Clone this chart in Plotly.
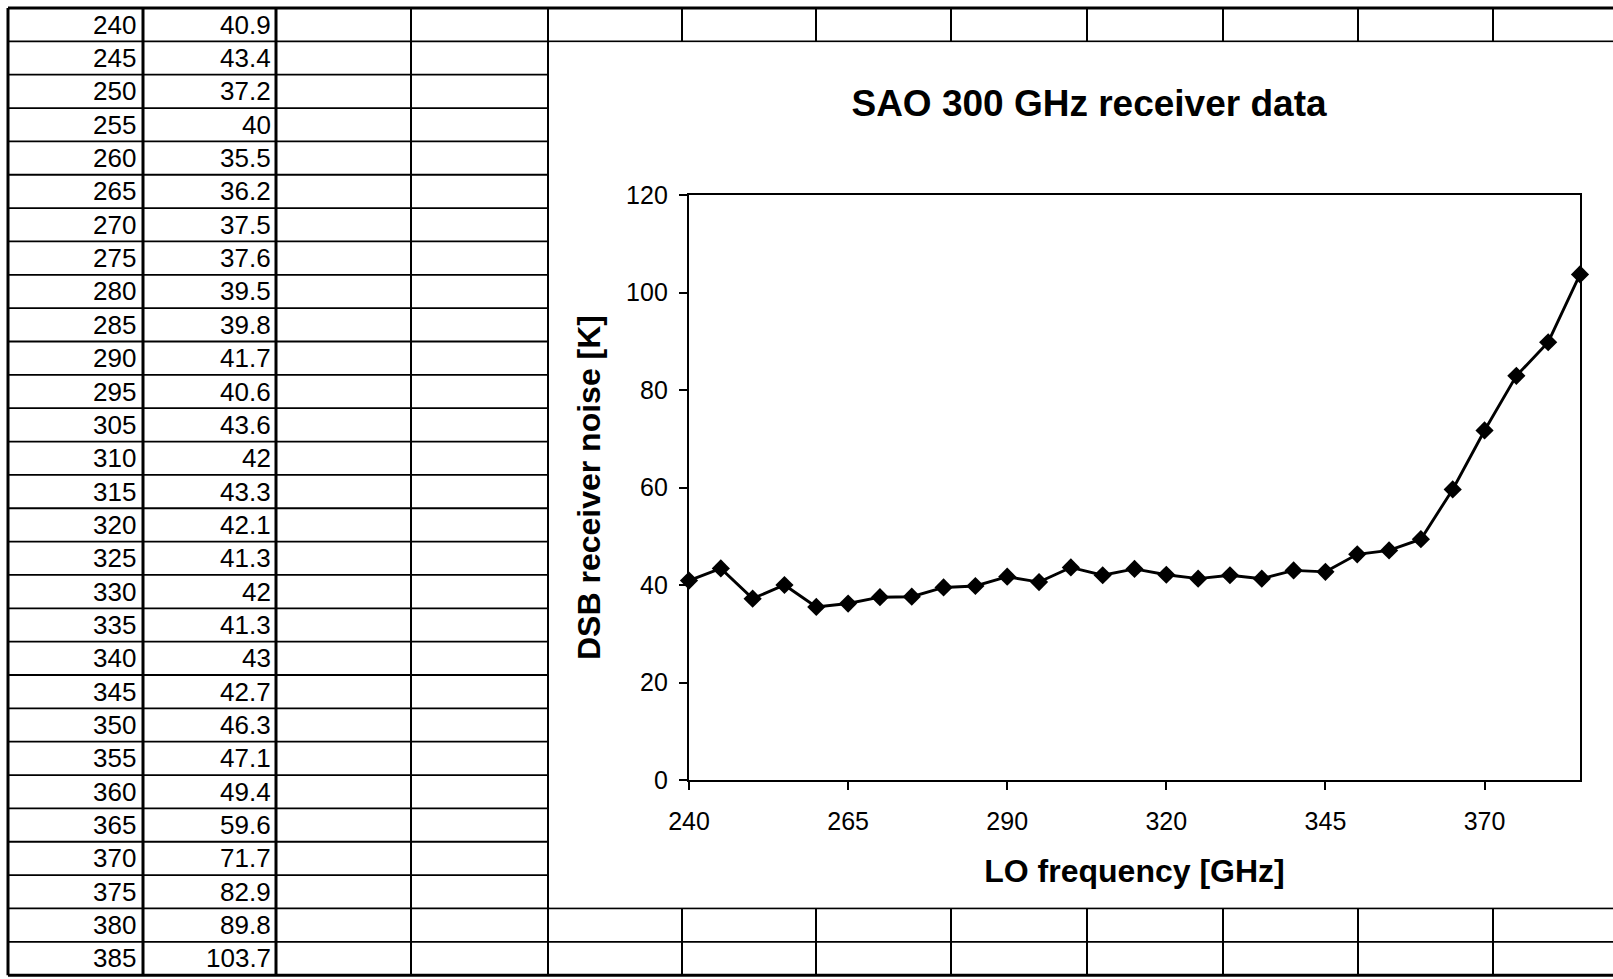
import plotly.graph_objects as go

# ---------------- data ----------------
freq_ghz = [240, 245, 250, 255, 260, 265, 270, 275, 280, 285, 290, 295,
            305, 310, 315, 320, 325, 330, 335, 340, 345, 350, 355, 360,
            365, 370, 375, 380, 385]
dsb_noise_k = [40.9, 43.4, 37.2, 40, 35.5, 36.2, 37.5, 37.6, 39.5, 39.8, 41.7, 40.6,
               43.6, 42, 43.3, 42.1, 41.3, 42, 41.3, 43, 42.7, 46.3, 47.1, 49.4,
               59.6, 71.7, 82.9, 89.8, 103.7]
tick_every = 5
y_ticks = [0, 20, 40, 60, 80, 100, 120]
title_text = "SAO 300 GHz receiver data"
x_title = "LO frequency [GHz]"
y_title = "DSB receiver noise [K]"

# ---------------- geometry (pixels of the page) ----------------
W, H = 1613, 979
FONT = "Liberation Sans, Arial, Helvetica, sans-serif"


def X(px):
    return px / W


def Y(py):
    return 1 - py / H


row_top = 8.0
row_h = 33.35
n_rows = len(freq_ghz)
row_y = [row_top + k * row_h for k in range(n_rows + 1)]
col_x_left = [8, 143, 276, 411, 548]
col_x_right = [682, 816, 951, 1087, 1223, 1358, 1493]
chart_row_top, chart_row_bot = 1, 27

plot_l, plot_r, plot_t, plot_b = 689, 1580, 195, 780

idx = list(range(len(freq_ghz)))
tick_idx = idx[::tick_every]
tick_txt = [str(freq_ghz[i]) for i in tick_idx]

fig = go.Figure()
fig.add_trace(go.Scatter(
    x=idx, y=dsb_noise_k, mode="lines+markers",
    line=dict(color="black", width=2.9),
    marker=dict(symbol="diamond", size=14, color="black"),
    cliponaxis=False, showlegend=False, hoverinfo="x+y",
))

shapes = []


def hline(y, x0, x1, w):
    shapes.append(dict(type="line", xref="paper", yref="paper", layer="below",
                       x0=X(x0), x1=X(x1), y0=Y(y), y1=Y(y),
                       line=dict(color="black", width=w)))


def vline(x, y0, y1, w):
    shapes.append(dict(type="line", xref="paper", yref="paper", layer="below",
                       x0=X(x), x1=X(x), y0=Y(y0), y1=Y(y1),
                       line=dict(color="black", width=w)))


# row lines
for k, y in enumerate(row_y):
    full = k <= chart_row_top or k >= chart_row_bot
    thick = k == 0 or k == n_rows
    hline(y, col_x_left[0], W if full else col_x_left[-1], 3 if thick else 1.8)
# left columns
for j, x in enumerate(col_x_left):
    vline(x, row_y[0], row_y[-1], 3 if j < 3 else 2)
# right columns (only the visible rows above and below the chart)
for x in col_x_right:
    vline(x, row_y[0], row_y[chart_row_top], 2)
    vline(x, row_y[chart_row_bot], row_y[-1], 2)
# chart area (white, covers the grid)
shapes.append(dict(type="rect", xref="paper", yref="paper", layer="below",
                   x0=X(col_x_left[-1] + 1.5), x1=1.0,
                   y0=Y(row_y[chart_row_bot] - 1.2), y1=Y(row_y[chart_row_top] + 1.2),
                   line=dict(width=0), fillcolor="white"))

annotations = []
for k, (f, v) in enumerate(zip(freq_ghz, dsb_noise_k)):
    yc = Y((row_y[k] + row_y[k + 1]) / 2)
    annotations.append(dict(x=X(col_x_left[1] - 5), y=yc, xref="paper", yref="paper",
                            text=str(f), showarrow=False, xanchor="right", yanchor="middle",
                            font=dict(family=FONT, size=26, color="black")))
    annotations.append(dict(x=X(col_x_left[2] - 3), y=yc, xref="paper", yref="paper",
                            text=f"{v:g}", showarrow=False, xanchor="right", yanchor="middle",
                            font=dict(family=FONT, size=26, color="black")))

axis_common = dict(showgrid=False, zeroline=False, linecolor="black", linewidth=2.4,
                   tickcolor="black", tickwidth=1.6, ticklen=8, automargin=False)

fig.update_layout(
    width=W, height=H, autosize=False,
    margin=dict(l=0, r=0, t=0, b=0, pad=0, autoexpand=False),
    paper_bgcolor="white", plot_bgcolor="white",
    shapes=shapes, annotations=annotations,
    title=dict(text=f"<b>{title_text}</b>", x=X(1089), y=Y(103), xref="paper", yref="paper",
               xanchor="center", yanchor="middle", automargin=False,
               font=dict(family=FONT, size=37, color="black")),
    xaxis=dict(domain=[X(plot_l), X(plot_r)], range=[0, len(freq_ghz) - 1],
               tickmode="array", tickvals=tick_idx, ticktext=tick_txt,
               ticks="outside", showline=True, mirror=True, anchor="y",
               tickfont=dict(family=FONT, size=25, color="black"),
               ticklabelstandoff=10,
               title=dict(text=f"<b>{x_title}</b>", standoff=25,
                          font=dict(family=FONT, size=32, color="black")),
               **axis_common),
    yaxis=dict(domain=[Y(plot_b), Y(plot_t)], range=[y_ticks[0], y_ticks[-1]],
               tickmode="array", tickvals=y_ticks,
               ticks="outside", showline=True, mirror=True, anchor="x",
               tickfont=dict(family=FONT, size=25, color="black"),
               ticklabelstandoff=6,
               title=dict(text=f"<b>{y_title}</b>", standoff=16,
                          font=dict(family=FONT, size=32, color="black")),
               **axis_common),
    xaxis2=dict(overlaying="x", anchor="y", side="bottom", range=[0, len(freq_ghz) - 1],
                tickmode="array", tickvals=tick_idx, ticks="inside", automargin=False,
                showticklabels=False, showline=False, showgrid=False, zeroline=False,
                tickcolor="black", tickwidth=1.6, ticklen=8),
    yaxis2=dict(overlaying="y", anchor="x", side="left", range=[y_ticks[0], y_ticks[-1]],
                tickmode="array", tickvals=y_ticks, ticks="inside", automargin=False,
                showticklabels=False, showline=False, showgrid=False, zeroline=False,
                tickcolor="black", tickwidth=1.6, ticklen=8),
)

fig.write_html("out.html", config={"displayModeBar": False},
               post_script="document.body.style.margin='0';")
